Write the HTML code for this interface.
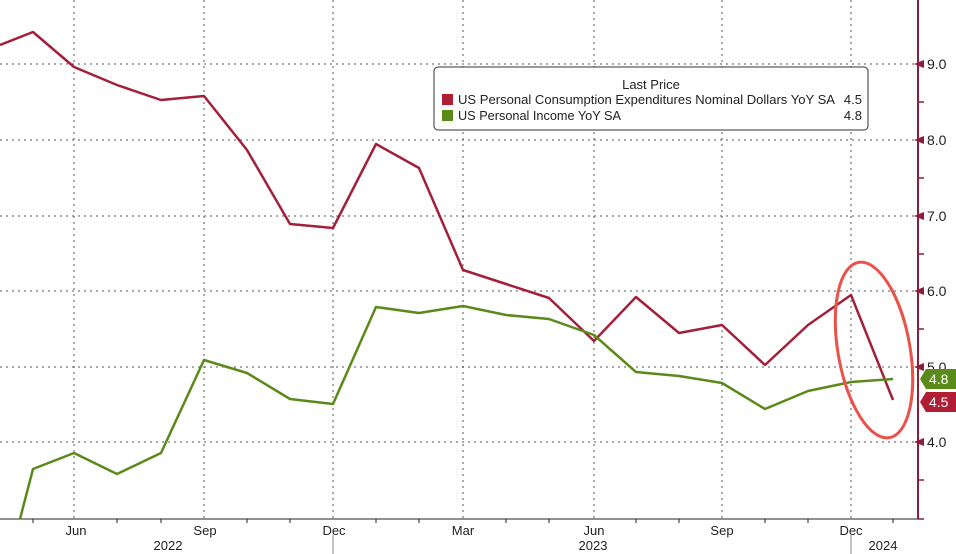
<!DOCTYPE html><html><head><meta charset="utf-8"><style>body{margin:0;background:#fff}svg{display:block}text{font-family:"Liberation Sans","DejaVu Sans",sans-serif}</style></head><body>
<svg width="956" height="554" viewBox="0 0 956 554" xmlns="http://www.w3.org/2000/svg">
<rect width="956" height="554" fill="#fff"/>
<g stroke="#555" stroke-width="1" stroke-dasharray="2,4">
<line x1="0" y1="64" x2="918" y2="64"/><line x1="0" y1="140" x2="918" y2="140"/><line x1="0" y1="216" x2="918" y2="216"/><line x1="0" y1="291" x2="918" y2="291"/><line x1="0" y1="367" x2="918" y2="367"/><line x1="0" y1="442" x2="918" y2="442"/>
<line x1="74" y1="0" x2="74" y2="519"/><line x1="204" y1="0" x2="204" y2="519"/><line x1="333" y1="0" x2="333" y2="519"/><line x1="463" y1="0" x2="463" y2="519"/><line x1="594" y1="0" x2="594" y2="519"/><line x1="722" y1="0" x2="722" y2="519"/><line x1="851" y1="0" x2="851" y2="519"/>
</g>
<line x1="0" y1="519" x2="918" y2="519" stroke="#222" stroke-width="1"/>
<g stroke="#222" stroke-width="1">
<line x1="33" y1="519" x2="33" y2="523"/><line x1="117" y1="519" x2="117" y2="523"/><line x1="161" y1="519" x2="161" y2="523"/><line x1="247" y1="519" x2="247" y2="523"/><line x1="290" y1="519" x2="290" y2="523"/><line x1="376" y1="519" x2="376" y2="523"/><line x1="419" y1="519" x2="419" y2="523"/><line x1="506" y1="519" x2="506" y2="523"/><line x1="549" y1="519" x2="549" y2="523"/><line x1="636" y1="519" x2="636" y2="523"/><line x1="679" y1="519" x2="679" y2="523"/><line x1="765" y1="519" x2="765" y2="523"/><line x1="808" y1="519" x2="808" y2="523"/><line x1="893" y1="519" x2="893" y2="523"/>
<line x1="333" y1="535" x2="333" y2="554" stroke="#888"/><line x1="851" y1="535" x2="851" y2="554" stroke="#888"/>
</g>
<line x1="918" y1="0" x2="918" y2="519" stroke="#8a1d3c" stroke-width="2"/>
<g stroke="#8a1d3c" stroke-width="1.5"><line x1="918" y1="102" x2="924" y2="102"/><line x1="918" y1="178" x2="924" y2="178"/><line x1="918" y1="254" x2="924" y2="254"/><line x1="918" y1="329" x2="924" y2="329"/><line x1="918" y1="480" x2="924" y2="480"/><line x1="918" y1="519" x2="924" y2="519"/></g>
<g fill="#8a1d3c"><polygon points="914,64 924,60 924,68"/><polygon points="914,140 924,136 924,144"/><polygon points="914,216 924,212 924,220"/><polygon points="914,291 924,287 924,295"/><polygon points="914,367 924,363 924,371"/><polygon points="914,442 924,438 924,446"/></g>
<g font-size="14" fill="#222"><text x="927" y="69">9.0</text><text x="927" y="145">8.0</text><text x="927" y="221">7.0</text><text x="927" y="296">6.0</text><text x="927" y="372">5.0</text><text x="927" y="447">4.0</text></g>
<g font-size="13" fill="#222" text-anchor="middle"><text x="76" y="535">Jun</text><text x="205" y="535">Sep</text><text x="334" y="535">Dec</text><text x="463" y="535">Mar</text><text x="594" y="535">Jun</text><text x="722" y="535">Sep</text><text x="851" y="535">Dec</text><text x="168" y="550">2022</text><text x="593" y="550">2023</text><text x="883" y="550">2024</text></g>
<polyline fill="none" stroke="#a3203a" stroke-width="2.5" stroke-linejoin="round" points="0,45 33,32 74,67 117,85 161,100 204,96 247,150 290,224 333,228 376,144 419,168 463,270 506,284 549,298 594,341 636,297 679,333 722,325 765,365 808,325 851,295 893,400"/>
<polyline fill="none" stroke="#5a8a1a" stroke-width="2.5" stroke-linejoin="round" points="20,519 33,469 74,453 117,474 161,453 204,360 247,373 290,399 333,404 376,307 419,313 463,306 506,315 549,319 594,335 636,372 679,376 722,383 765,409 808,391 851,382 893,379"/>
<polygon points="920,379 926,369 956,369 956,389 926,389" fill="#5a8a1a"/>
<text x="929" y="384" font-size="14" fill="#fff">4.8</text>
<polygon points="920,402 926,392 956,392 956,412 926,412" fill="#b01e35"/>
<text x="929" y="407" font-size="14" fill="#fff">4.5</text>
<ellipse cx="874" cy="350" rx="36" ry="89" transform="rotate(-10 874 350)" fill="none" stroke="#e8544c" stroke-width="3"/>
<rect x="434" y="67" width="434" height="63" rx="4" fill="#fff" stroke="#333" stroke-width="1"/>
<g font-size="13" fill="#222"><text x="651" y="89" text-anchor="middle">Last Price</text>
<rect x="442" y="94" width="11" height="11" fill="#b01e35"/><text x="458" y="104" textLength="377" lengthAdjust="spacingAndGlyphs">US Personal Consumption Expenditures Nominal Dollars YoY SA</text><text x="862" y="104" text-anchor="end">4.5</text>
<rect x="442" y="110" width="11" height="11" fill="#5a8a1a"/><text x="458" y="120" textLength="163" lengthAdjust="spacingAndGlyphs">US Personal Income YoY SA</text><text x="862" y="120" text-anchor="end">4.8</text></g>
</svg></body></html>
